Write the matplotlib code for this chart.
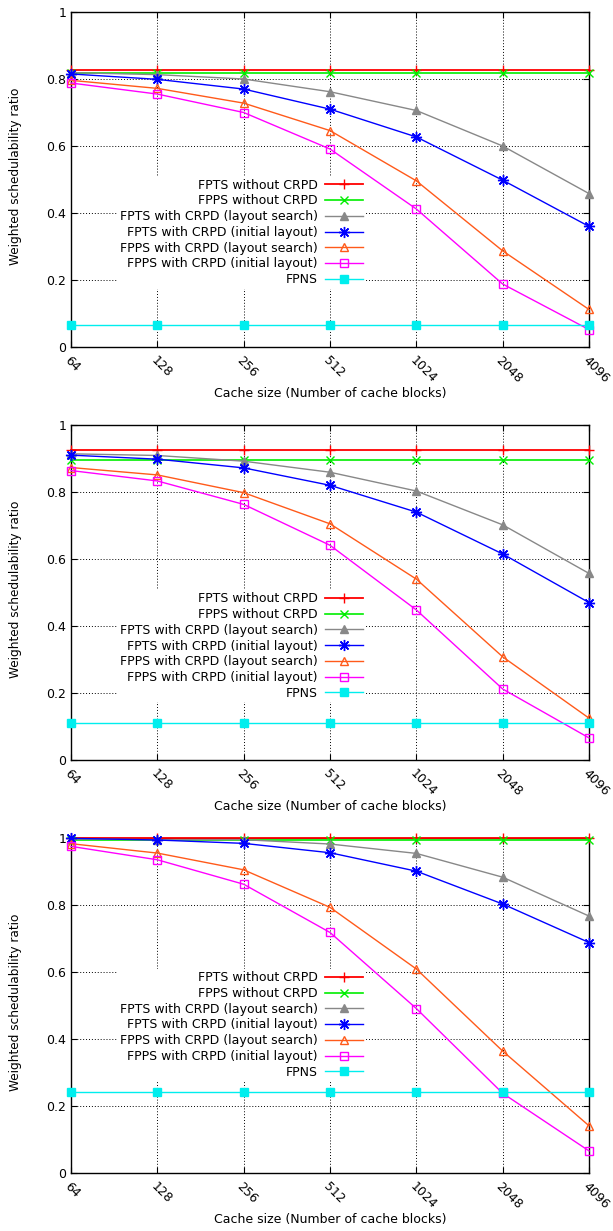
import numpy as np
import matplotlib
matplotlib.use("Agg")
import matplotlib.pyplot as plt

plt.rcParams['font.family'] = ['DejaVu Sans']
plt.rcParams['font.size'] = 9

# cache sizes (x axis, equally spaced categories)
cache_sizes = ["64", "128", "256", "512", "1024", "2048", "4096"]

labels = ["FPTS without CRPD", "FPPS without CRPD",
          "FPTS with CRPD (layout search)", "FPTS with CRPD (initial layout)",
          "FPPS with CRPD (layout search)", "FPPS with CRPD (initial layout)",
          "FPNS"]

# panel 1
p1_fpts_no = [0.827] * 7
p1_fpps_no = [0.819] * 7
p1_fpts_search = [0.819, 0.813, 0.800, 0.762, 0.706, 0.600, 0.458]
p1_fpts_init = [0.815, 0.799, 0.770, 0.710, 0.627, 0.498, 0.360]
p1_fpps_search = [0.796, 0.772, 0.728, 0.646, 0.496, 0.287, 0.112]
p1_fpps_init = [0.788, 0.755, 0.700, 0.591, 0.412, 0.188, 0.052]
p1_fpns = [0.066] * 7

# panel 2
p2_fpts_no = [0.924] * 7
p2_fpps_no = [0.897] * 7
p2_fpts_search = [0.914, 0.909, 0.892, 0.859, 0.803, 0.702, 0.557]
p2_fpts_init = [0.910, 0.898, 0.872, 0.820, 0.740, 0.615, 0.470]
p2_fpps_search = [0.873, 0.851, 0.798, 0.705, 0.540, 0.308, 0.125]
p2_fpps_init = [0.864, 0.833, 0.763, 0.641, 0.448, 0.212, 0.066]
p2_fpns = [0.110] * 7

# panel 3
p3_fpts_no = [0.999] * 7
p3_fpps_no = [0.995] * 7
p3_fpts_search = [0.997, 0.995, 0.995, 0.982, 0.954, 0.883, 0.767]
p3_fpts_init = [0.999, 0.994, 0.984, 0.956, 0.901, 0.803, 0.688]
p3_fpps_search = [0.983, 0.955, 0.905, 0.793, 0.609, 0.364, 0.141]
p3_fpps_init = [0.975, 0.935, 0.862, 0.718, 0.491, 0.238, 0.066]
p3_fpns = [0.242] * 7

panels = [
    [p1_fpts_no, p1_fpps_no, p1_fpts_search, p1_fpts_init, p1_fpps_search, p1_fpps_init, p1_fpns],
    [p2_fpts_no, p2_fpps_no, p2_fpts_search, p2_fpts_init, p2_fpps_search, p2_fpps_init, p2_fpns],
    [p3_fpts_no, p3_fpps_no, p3_fpts_search, p3_fpts_init, p3_fpps_search, p3_fpps_init, p3_fpns],
]
legend_y = [0.342, 0.340, 0.442]

styles = [
    dict(color='#ff0000', marker='+', ms=7, mew=1.0, lw=1.3, mfc='none'),
    dict(color='#00ee00', marker='x', ms=6, mew=1.0, lw=1.2, mfc='none'),
    dict(color='#888888', marker='^', ms=6, mew=1.0, lw=1.0),
    dict(color='#0000ff', marker=(8, 2, 0), ms=8, mew=1.0, lw=1.0),
    dict(color='#ff5a1a', marker='^', ms=6, mew=1.0, lw=1.0, mfc='none'),
    dict(color='#ff00ff', marker='s', ms=6, mew=1.0, lw=1.0, mfc='none'),
    dict(color='#00eeee', marker='s', ms=6, mew=1.0, lw=1.0),
]

W, H = 613, 1231
fig = plt.figure(figsize=(W / 100, H / 100), dpi=100)

x = np.arange(len(cache_sizes))
tops = [12, 425, 838]
for k, series in enumerate(panels):
    top = tops[k]
    ax = fig.add_axes([71 / W, 1 - (top + 335) / H, 518 / W, 335 / H])
    for vals, lab, st in zip(series, labels, styles):
        ax.plot(x, vals, label=lab, clip_on=False, zorder=3, **st)
    ax.set_xlim(0, 6)
    ax.set_ylim(0, 1)
    ax.set_xticks(x)
    ax.set_xticklabels(cache_sizes, rotation=-45, ha='left', va='top',
                       rotation_mode='anchor')
    ax.set_yticks([0, 0.2, 0.4, 0.6, 0.8, 1.0])
    ax.set_yticklabels(["0", "0.2", "0.4", "0.6", "0.8", "1"])
    ax.tick_params(direction='in', top=True, right=True, length=4, width=0.8)
    ax.tick_params(axis='x', pad=5)
    ax.grid(True, color='black', linestyle=(0, (1, 2)), linewidth=0.7)
    for s in ax.spines.values():
        s.set_linewidth(1.0)
    ax.set_xlabel("Cache size (Number of cache blocks)", labelpad=1)
    ax.set_ylabel("Weighted schedulability ratio", fontsize=8.7)
    ax.yaxis.set_label_coords(-0.095, 0.51)
    leg = ax.legend(loc='center right', bbox_to_anchor=(0.568, legend_y[k]),
                    markerfirst=False, frameon=True, framealpha=1,
                    edgecolor='none', facecolor='white', fancybox=False,
                    handlelength=3.0, handletextpad=0.6, labelspacing=0.22,
                    borderpad=0.2, borderaxespad=0, fontsize=9)
    leg.set_zorder(2)

fig.savefig("out.png", dpi=100)
